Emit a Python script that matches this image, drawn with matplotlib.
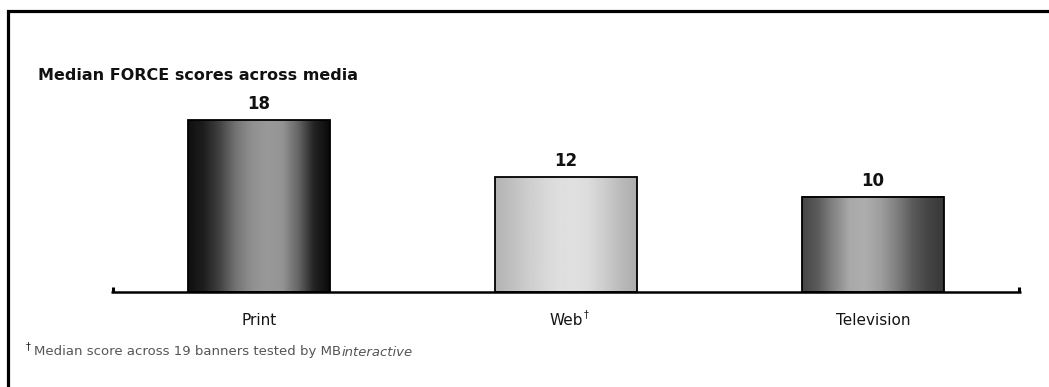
import matplotlib.pyplot as plt
from matplotlib.patches import Rectangle
import numpy as np

# Chart data
categories = ['Print', 'Web', 'Television']
scores = [18, 12, 10]
footnote = 'Median score across 19 banners tested by MB'
footnote_italic = 'interactive'

# horizontal shading of each bar (gray level, 0-1, left to right)
shades = [
    [0.06, 0.12, 0.26, 0.45, 0.56, 0.60, 0.58, 0.40, 0.14, 0.04],
    [0.70, 0.75, 0.80, 0.84, 0.87, 0.88, 0.86, 0.80, 0.73, 0.68],
    [0.27, 0.36, 0.52, 0.66, 0.68, 0.62, 0.50, 0.36, 0.27, 0.22],
]

plt.rcParams['font.family'] = ['DejaVu Sans']

fig = plt.figure(figsize=(10.49, 3.87), dpi=100)
W, H = 1049.0, 387.0

# axes placed so the baseline sits where the original has it
ax = fig.add_axes([111 / W, (H - 292) / H, 910 / W, 191 / H])
x = np.arange(len(categories))
bars = ax.bar(x, scores, width=0.46, color='none', edgecolor='black', linewidth=1.3, zorder=3)

for bar, shade in zip(bars, shades):
    grad = np.interp(np.linspace(0, 1, 200), np.linspace(0, 1, len(shade)), shade)
    img = np.tile(grad, (2, 1))
    x0, y0 = bar.get_x(), bar.get_y()
    ax.imshow(img, cmap='gray', vmin=0, vmax=1, aspect='auto', interpolation='bilinear',
              extent=[x0, x0 + bar.get_width(), y0, y0 + bar.get_height()], zorder=2)

for bar, val in zip(bars, scores):
    ax.annotate(str(val), (bar.get_x() + bar.get_width() / 2, bar.get_height()),
                xytext=(0, 5), textcoords='offset points', ha='center', va='bottom',
                fontsize=12, fontweight='bold', color='#111111')

xmin, xmax = -0.482, 2.482
ax.set_xlim(xmin, xmax)
ax.set_ylim(0, 20)
for s in ['top', 'right', 'left']:
    ax.spines[s].set_visible(False)
ax.spines['bottom'].set_linewidth(1.8)
ax.spines['bottom'].set_capstyle('butt')
ax.vlines([xmin + 0.006, xmax - 0.006], 0, 0.55, color='black', linewidth=2.2, clip_on=False, zorder=4)
ax.set_yticks([])
ax.set_xticks(x)
ax.set_xticklabels(categories, fontsize=11, color='#151515')
ax.tick_params(axis='x', length=0, pad=15)

# dagger after "Web", raised like a superscript
fig.canvas.draw()
web_bb = ax.get_xticklabels()[1].get_window_extent()
fig.text((web_bb.x1 + 1) / W, (web_bb.y1 - 6) / H, '\u2020', fontsize=7,
         color='#222222', ha='left', va='bottom')

# title and footnote
fig.text(38 / W, 1 - 76 / H, 'Median FORCE scores across media', fontsize=11.5,
         fontweight='bold', color='#111111', ha='left', va='center')
fig.text(26 / W, 1 - 346 / H, '\u2020', fontsize=7, color='#222222', ha='left', va='center')
t = fig.text(34 / W, 1 - 352 / H, footnote, fontsize=9.5, color='#555555', ha='left', va='center')
fig.canvas.draw()
bb = t.get_window_extent()
fig.text(bb.x1 / W, 1 - 352 / H, footnote_italic, fontsize=9.5, style='italic',
         color='#555555', ha='left', va='center')

# frame around the chart (runs off the right and bottom edges)
fig.patches.append(Rectangle((8 / W, -0.2), 1.2, 1 - 11 / H + 0.2, transform=fig.transFigure,
                             fill=False, edgecolor='black', linewidth=2.3))

fig.savefig('out.png', dpi=100)
